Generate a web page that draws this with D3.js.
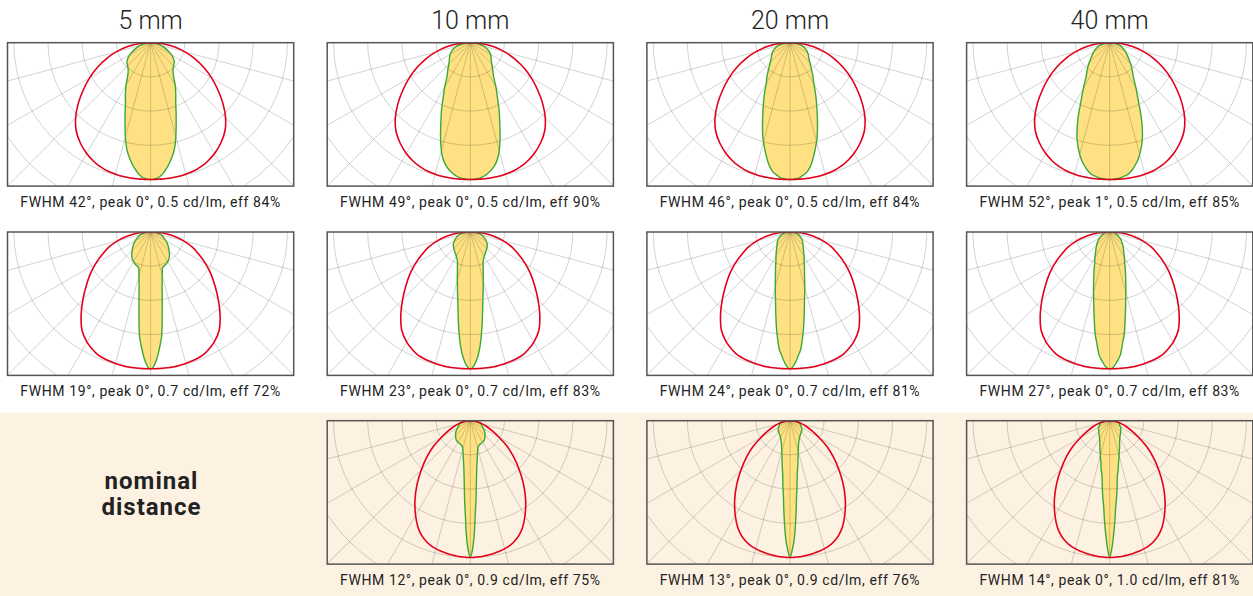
<!DOCTYPE html>
<html>
<head>
<meta charset="utf-8">
<script src="https://cdnjs.cloudflare.com/ajax/libs/d3/7.8.5/d3.min.js"></script>
<style>
    body { margin: 0; background: #fff; }
    text { font-family: Roboto, "Open Sans", sans-serif; fill: #222; }
</style>
</head>
<body>
<div id="chart"></div>
<script>
// column headers (distance) and caption lines
var columns = ["5 mm", "10 mm", "20 mm", "40 mm"];
var captionsRow1 = ["FWHM 42°, peak 0°, 0.5 cd/lm, eff 84%", "FWHM 49°, peak 0°, 0.5 cd/lm, eff 90%",
    "FWHM 46°, peak 0°, 0.5 cd/lm, eff 84%", "FWHM 52°, peak 1°, 0.5 cd/lm, eff 85%"];
var captionsRow2 = ["FWHM 19°, peak 0°, 0.7 cd/lm, eff 72%", "FWHM 23°, peak 0°, 0.7 cd/lm, eff 83%",
    "FWHM 24°, peak 0°, 0.7 cd/lm, eff 81%", "FWHM 27°, peak 0°, 0.7 cd/lm, eff 83%"];
var captionsRow3 = [null, "FWHM 12°, peak 0°, 0.9 cd/lm, eff 75%",
    "FWHM 13°, peak 0°, 0.9 cd/lm, eff 76%", "FWHM 14°, peak 0°, 1.0 cd/lm, eff 81%"];

// polar grid
var ringTicks = [0.25, 0.5, 0.75, 1, 1.25, 1.5];
var spokeAngles = [-75, -60, -45, -30, -15, 0, 15, 30, 45, 60, 75];

// half profiles (deg off axis -> relative intensity), mirrored for the other side
var angles = [0, 1, 2, 3, 4, 5, 6, 7, 8, 10, 12, 14, 16, 18, 20, 23, 26, 30, 35, 40, 45, 50, 55, 60, 65, 70, 75, 80, 85, 90];

// red reference curves, one per row
var redRow1 = [1, 1, 1, 1, 1, 1, 1, 1, 1, 0.999, 0.998, 0.996, 0.993, 0.99, 0.985, 0.975, 0.96, 0.935, 0.895, 0.845,
    0.775, 0.69, 0.6, 0.515, 0.43, 0.345, 0.26, 0.175, 0.09, 0];
var redRow2 = [1, 1, 1, 1, 1, 1, 1, 1, 1, 1, 0.998, 0.996, 0.993, 0.99, 0.986, 0.978, 0.96, 0.93, 0.875, 0.79,
    0.7, 0.615, 0.54, 0.465, 0.39, 0.325, 0.25, 0.17, 0.09, 0];
var redRow3 = [1, 1, 0.999, 0.998, 0.997, 0.996, 0.994, 0.992, 0.99, 0.985, 0.98, 0.973, 0.965, 0.955, 0.94, 0.91, 0.87, 0.8, 0.705, 0.605,
    0.505, 0.415, 0.33, 0.245, 0.18, 0.13, 0.09, 0.055, 0.025, 0];

// yellow measured beams
var beamR1_5 = [1, 0.999, 0.995, 0.99, 0.98, 0.967, 0.95, 0.93, 0.91, 0.865, 0.815, 0.75, 0.675, 0.605, 0.545, 0.47, 0.42, 0.36, 0.29, 0.255,
    0.238, 0.225, 0.205, 0.175, 0.14, 0.11, 0.08, 0.05, 0.025, 0];
var beamR1_10 = [1, 1, 0.998, 0.995, 0.992, 0.987, 0.98, 0.97, 0.96, 0.935, 0.9, 0.85, 0.78, 0.705, 0.63, 0.54, 0.455, 0.375, 0.295, 0.255,
    0.222, 0.2, 0.185, 0.17, 0.152, 0.13, 0.105, 0.075, 0.04, 0];
var beamR1_20 = [1, 1, 0.997, 0.994, 0.99, 0.98, 0.97, 0.96, 0.945, 0.9, 0.84, 0.78, 0.72, 0.65, 0.585, 0.5, 0.43, 0.35, 0.29, 0.24,
    0.205, 0.18, 0.165, 0.15, 0.135, 0.115, 0.095, 0.07, 0.035, 0];
var beamR1_40 = [1, 1, 0.998, 0.995, 0.992, 0.988, 0.983, 0.977, 0.97, 0.945, 0.91, 0.87, 0.82, 0.765, 0.7, 0.59, 0.48, 0.385, 0.3, 0.255,
    0.215, 0.18, 0.155, 0.135, 0.115, 0.095, 0.075, 0.05, 0.025, 0];
var beamR2_5 = [1, 0.99, 0.96, 0.92, 0.87, 0.82, 0.77, 0.69, 0.61, 0.49, 0.405, 0.35, 0.31, 0.28, 0.27, 0.265, 0.26, 0.25, 0.235, 0.215,
    0.19, 0.17, 0.15, 0.13, 0.11, 0.095, 0.08, 0.055, 0.03, 0];
var beamR2_10 = [1, 0.99, 0.965, 0.93, 0.885, 0.83, 0.765, 0.7, 0.635, 0.525, 0.45, 0.39, 0.345, 0.305, 0.275, 0.24, 0.22, 0.205, 0.19, 0.18,
    0.17, 0.162, 0.15, 0.135, 0.12, 0.105, 0.09, 0.07, 0.04, 0];
var beamR2_20 = [1, 0.99, 0.965, 0.935, 0.9, 0.87, 0.82, 0.765, 0.71, 0.6, 0.51, 0.445, 0.39, 0.345, 0.31, 0.27, 0.235, 0.205, 0.175, 0.15,
    0.135, 0.122, 0.11, 0.098, 0.085, 0.07, 0.055, 0.04, 0.02, 0];
var beamR2_40 = [1, 0.995, 0.98, 0.955, 0.93, 0.9, 0.85, 0.8, 0.76, 0.65, 0.56, 0.485, 0.43, 0.38, 0.34, 0.29, 0.25, 0.215, 0.18, 0.155,
    0.135, 0.118, 0.1, 0.085, 0.07, 0.058, 0.045, 0.03, 0.015, 0];
var beamR3_10 = [1, 0.94, 0.83, 0.69, 0.59, 0.5, 0.43, 0.38, 0.34, 0.29, 0.25, 0.222, 0.205, 0.195, 0.19, 0.186, 0.183, 0.18, 0.176, 0.165,
    0.152, 0.14, 0.125, 0.108, 0.097, 0.088, 0.078, 0.062, 0.035, 0];
var beamR3_20 = [1, 0.945, 0.87, 0.76, 0.65, 0.55, 0.49, 0.43, 0.385, 0.33, 0.28, 0.245, 0.22, 0.2, 0.183, 0.165, 0.152, 0.14, 0.13, 0.123,
    0.117, 0.113, 0.105, 0.097, 0.088, 0.08, 0.074, 0.06, 0.032, 0];
var beamR3_40 = [1, 0.93, 0.83, 0.73, 0.63, 0.57, 0.51, 0.45, 0.405, 0.36, 0.31, 0.28, 0.25, 0.228, 0.21, 0.185, 0.165, 0.148, 0.133, 0.122,
    0.113, 0.106, 0.1, 0.092, 0.082, 0.075, 0.07, 0.05, 0.027, 0];

var panels = [
    {row: 0, col: 0, beam: beamR1_5, ref: redRow1, caption: captionsRow1[0]},
    {row: 0, col: 1, beam: beamR1_10, ref: redRow1, caption: captionsRow1[1]},
    {row: 0, col: 2, beam: beamR1_20, ref: redRow1, caption: captionsRow1[2]},
    {row: 0, col: 3, beam: beamR1_40, ref: redRow1, caption: captionsRow1[3]},
    {row: 1, col: 0, beam: beamR2_5, ref: redRow2, caption: captionsRow2[0]},
    {row: 1, col: 1, beam: beamR2_10, ref: redRow2, caption: captionsRow2[1]},
    {row: 1, col: 2, beam: beamR2_20, ref: redRow2, caption: captionsRow2[2]},
    {row: 1, col: 3, beam: beamR2_40, ref: redRow2, caption: captionsRow2[3]},
    {row: 2, col: 1, beam: beamR3_10, ref: redRow3, caption: captionsRow3[1]},
    {row: 2, col: 2, beam: beamR3_20, ref: redRow3, caption: captionsRow3[2]},
    {row: 2, col: 3, beam: beamR3_40, ref: redRow3, caption: captionsRow3[3]}
];

var width = 1253, height = 596;
var colX = [7.5, 327.2, 646.9, 966.6],
    rowY = [42.7, 232, 420.7];
var boxW = 286.2, boxH = 143.4;

var svg = d3.select("#chart")
    .append("svg")
    .attr("width", width)
    .attr("height", height);

// peach band behind the nominal distance row
svg.append("rect")
    .attr("x", 0)
    .attr("y", 412.5)
    .attr("width", width)
    .attr("height", height - 412.5)
    .attr("fill", "#fdf2e2");

svg.selectAll(".coltitle")
    .data(columns)
    .enter().append("text")
    .attr("class", "coltitle")
    .attr("x", function (d, i) { return colX[i] + boxW / 2; })
    .attr("y", 28.5)
    .attr("text-anchor", "middle")
    .attr("font-size", "25px")
    .attr("font-weight", 300)
    .text(function (d) { return d; });

svg.append("text")
    .attr("x", 151.5)
    .attr("y", 488.5)
    .attr("text-anchor", "middle")
    .attr("font-size", "24px")
    .attr("font-weight", "bold")
    .attr("letter-spacing", "1px")
    .text("nominal");
svg.append("text")
    .attr("x", 151.5)
    .attr("y", 515)
    .attr("text-anchor", "middle")
    .attr("font-size", "24px")
    .attr("font-weight", "bold")
    .attr("letter-spacing", "1px")
    .text("distance");

var r = d3.scaleLinear().domain([0, 1]).range([0, 136.8]);

// angle 0 points straight down from the top centre
var radial = d3.lineRadial()
    .angle(function (d) { return Math.PI - d[0] * Math.PI / 180; })
    .radius(function (d) { return r(d[1]); })
    .curve(d3.curveCatmullRom.alpha(0.5));

function mirror(half) {
    var pts = [];
    for (var i = angles.length - 1; i > 0; i--) pts.push([-angles[i], half[i]]);
    for (var j = 0; j < angles.length; j++) pts.push([angles[j], half[j]]);
    return pts;
}

panels.forEach(function (p, k) {
    var g = svg.append("g")
        .attr("transform", "translate(" + (colX[p.col] + boxW / 2) + "," + rowY[p.row] + ")");

    g.append("clipPath")
        .attr("id", "clip" + k)
        .append("rect")
        .attr("x", -boxW / 2)
        .attr("y", 0)
        .attr("width", boxW)
        .attr("height", boxH);

    var inner = g.append("g").attr("clip-path", "url(#clip" + k + ")");

    inner.append("path")
        .datum(mirror(p.beam))
        .attr("d", radial)
        .attr("fill", "#ffe183")
        .attr("stroke", "none");

    // grid on top of the fill so it shows through
    inner.selectAll(".ring")
        .data(ringTicks)
        .enter().append("circle")
        .attr("class", "ring")
        .attr("r", function (d) { return r(d); })
        .attr("fill", "none")
        .attr("stroke", "#000")
        .attr("stroke-opacity", 0.2)
        .attr("stroke-width", 0.9);

    inner.selectAll(".spoke")
        .data(spokeAngles)
        .enter().append("line")
        .attr("class", "spoke")
        .attr("x1", 0)
        .attr("y1", 0)
        .attr("x2", function (d) { return d3.pointRadial(Math.PI - d * Math.PI / 180, r(1.7))[0]; })
        .attr("y2", function (d) { return d3.pointRadial(Math.PI - d * Math.PI / 180, r(1.7))[1]; })
        .attr("stroke", "#000")
        .attr("stroke-opacity", 0.2)
        .attr("stroke-width", 0.9);

    inner.append("path")
        .datum(mirror(p.beam))
        .attr("d", radial)
        .attr("fill", "none")
        .attr("stroke", "#3aa935")
        .attr("stroke-width", 1.4);

    inner.append("path")
        .datum(mirror(p.ref))
        .attr("d", radial)
        .attr("fill", "none")
        .attr("stroke", "#e3001b")
        .attr("stroke-width", 1.6);

    g.append("rect")
        .attr("x", -boxW / 2)
        .attr("y", 0)
        .attr("width", boxW)
        .attr("height", boxH)
        .attr("fill", "none")
        .attr("stroke", "#555")
        .attr("stroke-width", 1.5);

    g.append("text")
        .attr("x", 0)
        .attr("y", boxH + 20.5)
        .attr("text-anchor", "middle")
        .attr("font-size", "14px")
        .attr("letter-spacing", "0.6px")
        .text(p.caption);
});
</script>
</body>
</html>
